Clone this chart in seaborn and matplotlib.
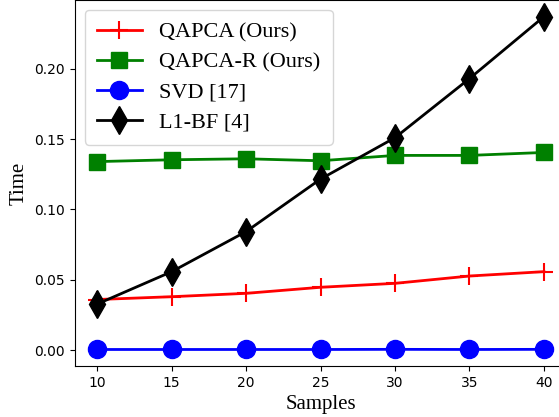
import matplotlib
matplotlib.use("Agg")
import matplotlib.pyplot as plt
import seaborn as sns
import pandas as pd

samples = [10, 15, 20, 25, 30, 35, 40]
qapca = [0.036, 0.038, 0.0404, 0.0447, 0.0475, 0.0527, 0.0558]
qapca_r = [0.134, 0.1353, 0.136, 0.1346, 0.1384, 0.1384, 0.1405]
svd = [0.0005, 0.0005, 0.0005, 0.0005, 0.0006, 0.0005, 0.0006]
l1bf = [0.0328, 0.0558, 0.0843, 0.1216, 0.151, 0.193, 0.237]

series = [
    ("QAPCA (Ours)", qapca, "red", "+", 13),
    ("QAPCA-R (Ours)", qapca_r, "green", "s", 12),
    ("SVD [17]", svd, "blue", "o", 13),
    ("L1-BF [4]", l1bf, "black", "d", 14),
]

fig = plt.figure(figsize=(5.59, 4.17), dpi=100)
ax = fig.add_axes([0.134, 0.122, 0.879, 0.878])
for name, vals, color, marker, ms in series:
    df = pd.DataFrame({"Samples": samples, "Time": vals})
    sns.lineplot(data=df, x="Samples", y="Time", ax=ax, color=color,
                 marker=marker, markersize=ms, linewidth=2, label=name,
                 markeredgecolor=color, markeredgewidth=1.5 if marker == "+" else 1)

ax.set_xticks(samples)
serif = "Liberation Serif"
ax.set_xlabel("Samples", fontfamily=serif, fontsize=15, labelpad=4)
ax.set_ylabel("Time", fontfamily=serif, fontsize=15)
ax.legend(loc="upper left", prop={"family": serif, "size": 16},
          handlelength=2.0, borderaxespad=0.45, borderpad=0.55, labelspacing=0.42)
fig.savefig("out.png", dpi=100)
